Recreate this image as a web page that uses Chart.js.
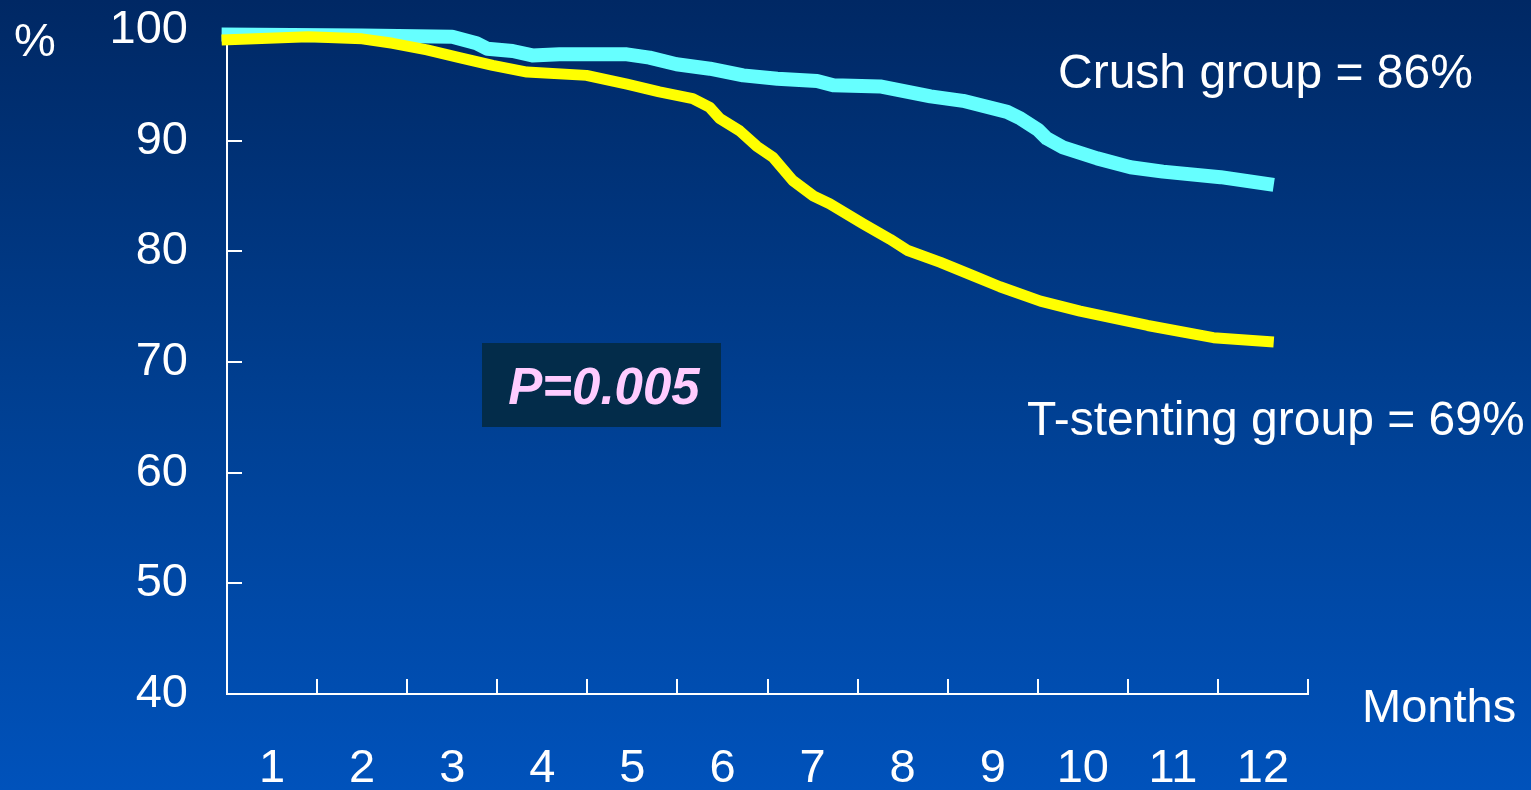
<!DOCTYPE html>
<html>
<head>
<meta charset="utf-8">
<title>Event-free survival: Crush vs T-stenting</title>
<script src="https://cdn.jsdelivr.net/npm/chart.js@4/dist/chart.umd.min.js"></script>
<style>
  html, body { margin: 0; padding: 0; }
  body {
    width: 1531px; height: 790px; overflow: hidden;
    background: linear-gradient(to bottom, #002864 0%, #003f91 50%, #0052bb 100%);
  }
  #wrap { position: relative; width: 1531px; height: 790px; }
</style>
</head>
<body>
<div id="wrap"><canvas id="chart"></canvas></div>
<script>
// Month slots shown under the axis
const monthLabels = ['1', '2', '3', '4', '5', '6', '7', '8', '9', '10', '11', '12'];
// Percent ticks on the vertical axis
const percentTicks = [40, 50, 60, 70, 80, 90, 100];

// Crush group curve (months from start, % event-free)
const crushMonths = [-0.06, 1.5, 2.5, 2.77, 2.89, 3.17, 3.39, 3.69, 4.44, 4.69, 4.99, 5.36, 5.73, 6.11,
  6.55, 6.73, 7.25, 7.81, 8.17, 8.66, 8.81, 9.0, 9.1, 9.28, 9.66, 10.03, 10.39, 11.03, 11.62];
const crushRates = [99.6, 99.5, 99.4, 98.8, 98.3, 98.1, 97.7, 97.8, 97.8, 97.5, 96.9, 96.5, 95.9, 95.6,
  95.4, 95.0, 94.9, 94.0, 93.6, 92.6, 92.0, 91.0, 90.2, 89.4, 88.4, 87.6, 87.2, 86.7, 86.0];

// T-stenting group curve
const tStentMonths = [-0.06, 0.9, 1.5, 1.84, 2.22, 2.58, 2.95, 3.33, 3.99, 4.44, 4.8, 5.17, 5.36, 5.47,
  5.69, 5.88, 6.06, 6.28, 6.51, 6.69, 7.06, 7.36, 7.55, 7.92, 8.28, 8.58, 9.03, 9.47, 10.22, 10.95, 11.62];
const tStentRates = [99.1, 99.4, 99.2, 98.8, 98.2, 97.5, 96.8, 96.2, 95.9, 95.1, 94.4, 93.8, 93.0, 92.0,
  90.9, 89.5, 88.5, 86.4, 85.0, 84.3, 82.5, 81.1, 80.1, 79.0, 77.8, 76.8, 75.5, 74.6, 73.3, 72.2, 71.8];

const crushLabel = 'Crush group = 86%';
const tStentLabel = 'T-stenting group = 69%';
const pValueLabel = 'P=0.005';
const yUnitLabel = '%';
const xUnitLabel = 'Months';

const FONT = "'Liberation Sans', Arial, Helvetica, sans-serif";

const toPoints = (xs, ys) => xs.map((x, i) => ({ x: x, y: ys[i] }));

// Free-standing captions: unit labels, group results and the p-value box
const captionPlugin = {
  id: 'captions',
  afterDraw(chart) {
    const ctx = chart.ctx;
    ctx.save();
    ctx.textBaseline = 'alphabetic';
    ctx.textAlign = 'left';
    ctx.fillStyle = '#ffffff';
    ctx.font = '47px ' + FONT;
    ctx.fillText(yUnitLabel, 14, 56);
    ctx.fillText(xUnitLabel, 1362, 722);
    ctx.font = '48px ' + FONT;
    ctx.fillText(crushLabel, 1058, 88);
    ctx.fillText(tStentLabel, 1027, 435);

    // p-value box
    ctx.fillStyle = '#032c4a';
    ctx.fillRect(482, 343, 239, 84);
    ctx.fillStyle = '#ffccff';
    ctx.font = 'italic bold 51px ' + FONT;
    ctx.textAlign = 'center';
    ctx.fillText(pValueLabel, 604, 404);
    ctx.restore();
  }
};

// Keep tick-label padding from pushing the plot area inwards
const noEdgePadding = (scale) => {
  scale.paddingTop = 0;
  scale.paddingBottom = 0;
  scale.paddingLeft = 0;
  scale.paddingRight = 0;
};

new Chart(document.getElementById('chart'), {
  type: 'line',
  data: {
    datasets: [
      {
        label: 'T-stenting',
        data: toPoints(tStentMonths, tStentRates),
        borderColor: '#ffff00',
        borderWidth: 11,
        xAxisID: 'x',
        yAxisID: 'y'
      },
      {
        label: 'Crush',
        data: toPoints(crushMonths, crushRates),
        borderColor: '#66ffff',
        borderWidth: 14,
        xAxisID: 'x',
        yAxisID: 'y'
      }
    ]
  },
  options: {
    responsive: true,
    maintainAspectRatio: false,
    animation: false,
    parsing: false,
    layout: { padding: { left: 0, right: 223, top: 30, bottom: 0 } },
    elements: {
      line: { tension: 0, fill: false, borderJoinStyle: 'round', borderCapStyle: 'butt' },
      point: { radius: 0, hoverRadius: 0 }
    },
    datasets: { line: { clip: false } },
    plugins: {
      legend: { display: false },
      tooltip: { enabled: false },
      title: { display: false }
    },
    scales: {
      x: {
        type: 'linear',
        min: 0,
        max: 12,
        display: false
      },
      months: {
        type: 'category',
        labels: monthLabels,
        position: 'bottom',
        offset: true,
        grid: {
          offset: true,
          drawOnChartArea: false,
          drawTicks: true,
          tickLength: -15,
          color: '#ffffff',
          lineWidth: 2
        },
        border: { display: true, color: '#ffffff', width: 2 },
        ticks: {
          color: '#ffffff',
          font: { family: FONT, size: 47 },
          padding: 62,
          maxRotation: 0,
          autoSkip: false
        },
        afterFit(scale) { scale.height = 96; noEdgePadding(scale); }
      },
      y: {
        type: 'linear',
        position: 'left',
        min: 40,
        max: 100,
        afterBuildTicks(scale) { scale.ticks = percentTicks.map(v => ({ value: v })); },
        grid: {
          drawOnChartArea: false,
          drawTicks: true,
          tickLength: -15,
          color: '#ffffff',
          lineWidth: 2
        },
        border: { display: true, color: '#ffffff', width: 2 },
        ticks: {
          color: '#ffffff',
          font: { family: FONT, size: 47 },
          padding: 54
        },
        afterFit(scale) { scale.width = 227; noEdgePadding(scale); }
      }
    }
  },
  plugins: [captionPlugin]
});
</script>
</body>
</html>
